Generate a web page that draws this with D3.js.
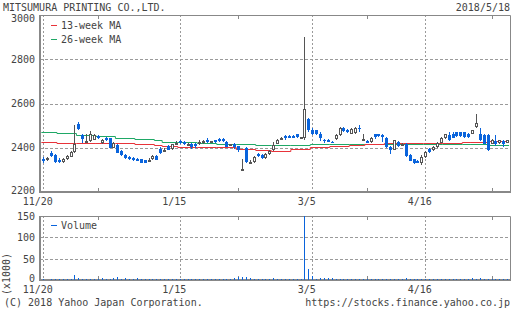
<!DOCTYPE html>
<html>
<head>
<meta charset="utf-8">
<script src="https://cdn.jsdelivr.net/npm/d3@7"></script>
<style>
  body { margin: 0; background: #fff; }
  svg text { font-family: "DejaVu Sans Mono", monospace; font-size: 10px; fill: #444; }
</style>
</head>
<body>
<svg width="512" height="310"></svg>
<script>
//	daily prices, 2017/11/20 .. 2018/5/18 (one entry per trading day)
var opens = [2351,2346,2377,2366,2345,2337,2347,2360,2382,2508,
  2457,2430,2430,2436,2454,2420,2446,2442,2401,2412,
  2384,2369,2359,2354,2351,2347,2344,2344,2348,2362,
  2396,2386,2407,2395,2419,2431,2427,2418,2419,2419,
  2420,2421,2434,2424,2434,2438,2439,2427,2414,2419,
  2407,2303,2398,2335,2336,2374,2366,2352,2370,2390,
  2418,2437,2452,2454,2454,2461,2446,2446,2528,2482,
  2479,2464,2437,2437,2425,2439,2457,2491,2482,2464,
  2467,2490,2439,2431,2424,2460,2460,2457,2446,2404,
  2392,2427,2416,2419,2366,2347,2341,2332,2356,2396,
  2389,2404,2422,2442,2457,2461,2469,2469,2469,2464,
  2464,2494,2464,2457,2457,2419,2431,2422,2431,2422];
var highs = [2356,2360,2385,2370,2352,2354,2366,2385,2505,2515,
  2462,2464,2476,2462,2458,2440,2450,2446,2425,2415,
  2388,2372,2362,2357,2353,2350,2346,2353,2365,2366,
  2402,2398,2412,2418,2430,2436,2430,2422,2422,2420,
  2434,2436,2442,2432,2437,2442,2442,2430,2418,2422,
  2410,2351,2405,2345,2362,2378,2370,2376,2390,2425,
  2438,2450,2458,2456,2457,2464,2450,2900,2534,2488,
  2482,2470,2440,2440,2429,2460,2494,2494,2486,2488,
  2495,2502,2461,2434,2448,2464,2463,2460,2448,2410,
  2436,2430,2420,2422,2370,2350,2344,2366,2384,2400,
  2406,2424,2448,2463,2470,2470,2472,2472,2471,2468,
  2482,2552,2490,2460,2462,2440,2457,2436,2437,2436];
var lows = [2332,2342,2358,2332,2330,2332,2345,2358,2378,2478,
  2420,2424,2428,2434,2440,2416,2432,2398,2398,2376,
  2362,2350,2343,2340,2338,2330,2330,2340,2345,2343,
  2372,2382,2388,2392,2416,2418,2412,2414,2396,2400,
  2412,2418,2422,2420,2422,2426,2428,2402,2410,2396,
  2383,2300,2330,2330,2333,2358,2348,2348,2365,2386,
  2415,2433,2436,2444,2444,2446,2444,2437,2472,2456,
  2456,2430,2420,2424,2420,2436,2454,2472,2468,2460,
  2464,2472,2436,2420,2420,2441,2448,2426,2400,2374,
  2390,2404,2414,2360,2338,2326,2330,2324,2352,2378,
  2386,2400,2420,2440,2430,2442,2450,2448,2446,2446,
  2460,2490,2432,2415,2386,2416,2410,2418,2404,2420];
var closes = [2338,2352,2363,2336,2336,2350,2362,2382,2418,2485,
  2440,2432,2460,2458,2442,2437,2434,2401,2422,2378,
  2366,2354,2347,2344,2341,2333,2333,2346,2362,2346,
  2377,2390,2392,2415,2423,2422,2415,2419,2404,2408,
  2427,2431,2424,2430,2425,2430,2431,2404,2415,2404,
  2389,2305,2336,2337,2358,2362,2352,2372,2386,2412,
  2434,2446,2442,2446,2446,2449,2448,2573,2482,2460,
  2460,2445,2431,2427,2424,2457,2491,2476,2472,2484,
  2491,2484,2441,2422,2446,2450,2452,2449,2404,2389,
  2434,2408,2418,2362,2341,2329,2332,2356,2381,2381,
  2404,2422,2446,2461,2437,2446,2454,2452,2450,2449,
  2479,2513,2437,2419,2389,2437,2419,2434,2416,2434];
//	volume, thousands of shares
var volumes = [2,1,3,2,2,2,3,2,11,4,
  3,2,2,3,2,5,2,2,4,8,
  3,5,3,2,4,2,3,2,2,3,
  2,3,2,3,2,2,3,2,2,3,
  2,2,3,2,2,3,2,2,3,4,
  6,7,6,5,3,2,3,2,3,4,
  3,3,2,2,3,2,2,150,25,10,
  3,5,5,4,4,2,3,3,3,2,
  3,3,2,2,3,2,3,3,2,3,
  3,2,3,4,2,3,2,2,3,2,
  2,3,2,2,3,2,3,2,2,3,
  4,3,5,3,2,3,2,2,3,2];

//	weekly moving averages (first trading day index of each week)
var weekStart = [0,4,9,14,19,24,29,31,35,40,45,50,55,59,64,69,74,79,83,88,93,98,103,108,110,115];
var ma13 = [2424,2423,2423,2422,2420,2416,2412,2408,2405,2404,2402,2396,2389,2387,2396,2403,2407,2414,2418,2422,2422,2420,2422,2424,2427,2430];
var ma26 = [2472,2466,2458,2452,2446,2440,2436,2428,2424,2421,2418,2416,2414,2413,2412,2416,2416,2419,2419,2419,2417,2416,2416,2416,2415,2413];

//	axis ticks
var dateTicks = [0,35,69,98];
var dateLabels = ["11/20","1/15","3/5","4/16"];
var minorTicks = [14,50,83,115];
var priceTicks = [2200,2400,2600,2800,3000];
var volTicks = [0,50,100,150];

var blue = "#0a64dc", upColor = "#555", frameColor = "#888", gridColor = "#9a9a9a";
var red = "#e8333a", green = "#1fa866";

var svg = d3.select("svg");
var left = 40, right = 511;

var x = d3.scaleLinear().domain([-0.85, 120]).range([left, right]);
var y = d3.scaleLinear().domain([2200, 3000]).range([192, 15]);
var yv = d3.scaleLinear().domain([0, 150]).range([280, 216]);

function px(i) { return Math.round(x(i)); }

//	title + date
svg.append("text").attr("x", 3).attr("y", 11).text("MITSUMURA PRINTING CO.,LTD.");
svg.append("text").attr("x", 510).attr("y", 11).attr("text-anchor", "end").text("2018/5/18");

//	grid + frame for a panel
function panel(top, bottom, yScale, hTicks) {
    var g = svg.append("g");
    g.selectAll(".hg").data(hTicks).enter().append("line")
        .attr("x1", left).attr("x2", right)
        .attr("y1", function(d) { return Math.round(yScale(d)) + 0.5; })
        .attr("y2", function(d) { return Math.round(yScale(d)) + 0.5; })
        .attr("stroke", gridColor).attr("stroke-dasharray", "3,2");
    g.selectAll(".vg").data(dateTicks).enter().append("line")
        .attr("x1", function(d) { return px(d) + 0.5; })
        .attr("x2", function(d) { return px(d) + 0.5; })
        .attr("y1", top).attr("y2", bottom)
        .attr("stroke", gridColor).attr("stroke-dasharray", "2,2");
    g.selectAll(".mt").data(minorTicks).enter().append("path")
        .attr("d", function(d) {
            var xx = px(d) + 0.5;
            return "M" + xx + "," + top + "v4M" + xx + "," + bottom + "v-4";
        })
        .attr("stroke", frameColor);
    g.append("path")
        .attr("d", "M" + left + "," + (top + 0.5) + "H" + (right - 0.5) + "V" + bottom)
        .attr("fill", "none").attr("stroke", frameColor);
    g.append("path")
        .attr("d", "M" + (left) + "," + top + "V" + bottom + "H" + right)
        .attr("fill", "none").attr("stroke", frameColor).attr("stroke-width", 2);
}

panel(15, 192, y, [2400, 2600, 2800]);
panel(216, 280, yv, [50, 100]);

//	y axes
var yAxis = svg.append("g").attr("transform", "translate(" + left + ",0)")
    .call(d3.axisLeft(y).tickValues(priceTicks).tickSize(0).tickPadding(5).tickFormat(d3.format("d")));
var vAxis = svg.append("g").attr("transform", "translate(" + left + ",0)")
    .call(d3.axisLeft(yv).tickValues(volTicks).tickSize(0).tickPadding(5));
svg.selectAll(".domain").remove();
yAxis.selectAll("text").attr("dy", function(d) {
    return d === 3000 ? "0.6em" : d === 2200 ? "0.15em" : "0.3em";
});
vAxis.selectAll("text").attr("dy", function(d) { return d === 0 ? "0.1em" : "0.35em"; });

//	x labels
function dateAxis(yy) {
    svg.append("g").attr("transform", "translate(-6," + yy + ")")
        .call(d3.axisBottom(x).tickValues(dateTicks).tickSize(0).tickPadding(0)
            .tickFormat(function(d, i) { return dateLabels[i]; }))
        .call(function(g) { g.select(".domain").remove(); });
}
dateAxis(197.5);
dateAxis(285.5);

svg.append("text").attr("transform", "translate(10,274) rotate(-90)")
    .attr("text-anchor", "middle").text("(x1000)");

//	moving averages (weekly steps)
function maLine(vals, color) {
    var pts = vals.map(function(v, k) { return [x(weekStart[k] - 0.5), y(v)]; });
    pts.push([x(119.5), y(vals[vals.length - 1])]);
    svg.append("path")
        .attr("d", d3.line().curve(d3.curveStepAfter)(pts.map(function(p) { return [p[0], Math.round(p[1]) + 0.5]; })))
        .attr("fill", "none").attr("stroke", color).attr("stroke-width", 1);
}
maLine(ma26, green);
maLine(ma13, red);

//	candles
var days = d3.range(opens.length);
var candle = svg.append("g").selectAll("g").data(days).enter().append("g");

candle.append("line")
    .attr("x1", function(i) { return px(i) + 0.5; })
    .attr("x2", function(i) { return px(i) + 0.5; })
    .attr("y1", function(i) { return Math.round(y(highs[i])); })
    .attr("y2", function(i) { return Math.round(y(lows[i])); })
    .attr("stroke", function(i) { return closes[i] >= opens[i] ? upColor : blue; });

candle.append("rect")
    .attr("x", function(i) { return closes[i] >= opens[i] ? px(i) - 0.5 : px(i) - 1; })
    .attr("width", function(i) { return closes[i] >= opens[i] ? 2 : 3; })
    .attr("y", function(i) {
        var t = Math.round(y(Math.max(opens[i], closes[i])));
        return closes[i] >= opens[i] ? t + 0.5 : t;
    })
    .attr("height", function(i) {
        var h = Math.round(y(Math.min(opens[i], closes[i]))) - Math.round(y(Math.max(opens[i], closes[i])));
        return closes[i] >= opens[i] ? Math.max(1, h - 1) : Math.max(1, h);
    })
    .attr("fill", function(i) { return closes[i] >= opens[i] ? "#fff" : blue; })
    .attr("stroke", function(i) { return closes[i] >= opens[i] ? upColor : "none"; });

//	volume bars
svg.append("g").selectAll("line").data(days).enter().append("line")
    .attr("x1", function(i) { return px(i) + 0.5; })
    .attr("x2", function(i) { return px(i) + 0.5; })
    .attr("y1", yv(0))
    .attr("y2", function(i) { return Math.round(yv(volumes[i])); })
    .attr("stroke", blue);

//	legends
function legend(items, y0) {
    items.forEach(function(it, k) {
        var yy = y0 + k * 14;
        svg.append("line").attr("x1", 51).attr("x2", 57).attr("y1", yy + 0.5).attr("y2", yy + 0.5)
            .attr("stroke", it[1]);
        svg.append("text").attr("x", 61).attr("y", yy + 4).text(it[0]);
    });
}
legend([["13-week MA", red], ["26-week MA", green]], 25);
legend([["Volume", blue]], 225);

//	footer
svg.append("text").attr("x", 4).attr("y", 306).text("(C) 2018 Yahoo Japan Corporation.");
svg.append("text").attr("x", 510).attr("y", 306).attr("text-anchor", "end").text("https://stocks.finance.yahoo.co.jp");
</script>
</body>
</html>
